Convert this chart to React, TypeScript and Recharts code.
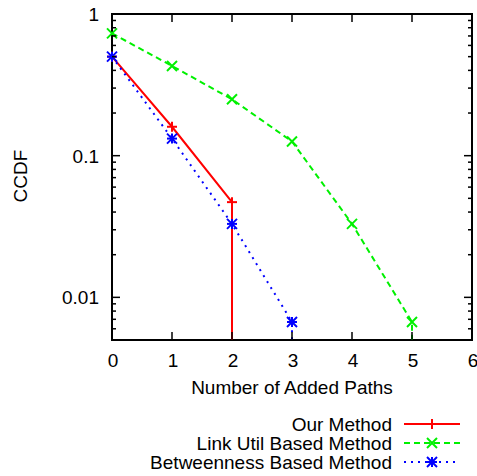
import { Line, LineChart, ReferenceArea, XAxis, YAxis } from 'recharts';

// axis ticks
const xTicks = [0, 1, 2, 3, 4, 5, 6];
const yTicks = [
  0.005, 0.006, 0.007, 0.008, 0.009, 0.01, 0.02, 0.03, 0.04, 0.05, 0.06, 0.07,
  0.08, 0.09, 0.1, 0.2, 0.3, 0.4, 0.5, 0.6, 0.7, 0.8, 0.9, 1,
];
const yMajor = [0.01, 0.1, 1];
const yMajorLabels = ['0.01', '0.1', '1'];

// series values (0 = CCDF drops to zero)
const ourX = [0, 1, 2, 2];
const ourY = [0.5, 0.16, 0.047, 0];
const linkX = [0, 1, 2, 3, 4, 5, 5];
const linkY = [0.73, 0.43, 0.25, 0.126, 0.033, 0.0067, 0];
const betX = [0, 1, 2, 3, 3];
const betY = [0.5, 0.132, 0.033, 0.0067, 0];

const seriesNames = ['Our Method', 'Link Util Based Method', 'Betweenness Based Method'];
const seriesColors = ['#ff0000', '#00f000', '#0000ff'];

const Y_MIN = 0.005;
const W = 477;
const H = 476;
const LEFT = 112;
const RIGHT = 472;
const TOP = 14;
const BOTTOM = 340;
const FONT = '"Liberation Sans", Arial, sans-serif';
const FS = 19;

const toRows = (xs: number[], ys: number[]) =>
  xs.map((x, i) => ({ x, y: ys[i] === 0 ? Y_MIN : ys[i], zero: ys[i] === 0 }));

function Marker({ kind, cx, cy, color }: { kind: number; cx: number; cy: number; color: string }) {
  const r = 5;
  const plus = (
    <>
      <line x1={cx - r} y1={cy} x2={cx + r} y2={cy} stroke={color} strokeWidth={2} />
      <line x1={cx} y1={cy - r} x2={cx} y2={cy + r} stroke={color} strokeWidth={2} />
    </>
  );
  const cross = (
    <>
      <line x1={cx - r} y1={cy - r} x2={cx + r} y2={cy + r} stroke={color} strokeWidth={2} />
      <line x1={cx - r} y1={cy + r} x2={cx + r} y2={cy - r} stroke={color} strokeWidth={2} />
    </>
  );
  if (kind === 0) return <g>{plus}</g>;
  if (kind === 1) return <g>{cross}</g>;
  return (
    <g>
      {plus}
      {cross}
    </g>
  );
}

const makeDot = (kind: number) => (props: any) => {
  const { cx, cy, payload, index } = props;
  if (payload.zero || cx == null || cy == null) return <g key={index} />;
  return (
    <g key={index}>
      <Marker kind={kind} cx={cx} cy={cy} color={seriesColors[kind]} />
    </g>
  );
};

function YTick(props: any) {
  const { y, payload } = props;
  const idx = yMajor.findIndex((v) => Math.abs(v - payload.value) < 1e-9);
  const len = idx >= 0 ? 8 : 4;
  return (
    <g>
      <line x1={LEFT} y1={y} x2={LEFT + len} y2={y} stroke="#000" strokeWidth={1.5} />
      <line x1={RIGHT - len} y1={y} x2={RIGHT} y2={y} stroke="#000" strokeWidth={1.5} />
      {idx >= 0 && (
        <text x={99} y={y + 7} textAnchor="end" fontFamily={FONT} fontSize={FS} fill="#000">
          {yMajorLabels[idx]}
        </text>
      )}
    </g>
  );
}

function XTick(props: any) {
  const { x, payload } = props;
  return (
    <g>
      <line x1={x} y1={BOTTOM} x2={x} y2={BOTTOM - 8} stroke="#000" strokeWidth={1.5} />
      <line x1={x} y1={TOP} x2={x} y2={TOP + 8} stroke="#000" strokeWidth={1.5} />
      <text x={x + 1} y={367} textAnchor="middle" fontFamily={FONT} fontSize={FS} fill="#000">
        {payload.value}
      </text>
    </g>
  );
}

const dashes = [undefined, '6 4', '2 5'];

export default function App() {
  const data = [toRows(ourX, ourY), toRows(linkX, linkY), toRows(betX, betY)];
  return (
    <div style={{ position: 'absolute', left: 0, top: 0, width: W, height: H, background: '#fff' }}>
      <LineChart
        width={W}
        height={H}
        margin={{ top: TOP, right: W - RIGHT, left: 0, bottom: 76 }}
      >
        <XAxis
          dataKey="x"
          type="number"
          domain={[0, 6]}
          ticks={xTicks}
          interval={0}
          height={60}
          axisLine={false}
          tickLine={false}
          tick={<XTick />}
        />
        <YAxis
          scale="log"
          domain={[Y_MIN, 1]}
          ticks={yTicks}
          interval={0}
          width={LEFT}
          axisLine={false}
          tickLine={false}
          tick={<YTick />}
        />
        <ReferenceArea x1={0} x2={6} y1={Y_MIN} y2={1} fill="none" stroke="#000" strokeWidth={2} />
        {data.map((rows, i) => (
          <Line
            key={seriesNames[i]}
            data={rows}
            dataKey="y"
            name={seriesNames[i]}
            stroke={seriesColors[i]}
            strokeWidth={2}
            strokeDasharray={dashes[i]}
            dot={makeDot(i)}
            activeDot={false}
            isAnimationActive={false}
          />
        ))}
      </LineChart>
      <svg
        width={W}
        height={H}
        style={{ position: 'absolute', left: 0, top: 0, pointerEvents: 'none' }}
      >
        <text
          transform="translate(27,176) rotate(-90)"
          textAnchor="middle"
          fontFamily={FONT}
          fontSize={FS}
          fill="#000"
        >
          CCDF
        </text>
        <text x={292} y={394} textAnchor="middle" fontFamily={FONT} fontSize={FS} fill="#000">
          Number of Added Paths
        </text>
        {seriesNames.map((name, i) => {
          const cy = 424 + i * 19;
          return (
            <g key={name}>
              <text x={392} y={cy + 7} textAnchor="end" fontFamily={FONT} fontSize={FS} fill="#000">
                {name}
              </text>
              <line
                x1={404}
                y1={cy}
                x2={460}
                y2={cy}
                stroke={seriesColors[i]}
                strokeWidth={2}
                strokeDasharray={dashes[i]}
              />
              <Marker kind={i} cx={432} cy={cy} color={seriesColors[i]} />
            </g>
          );
        })}
      </svg>
    </div>
  );
}
